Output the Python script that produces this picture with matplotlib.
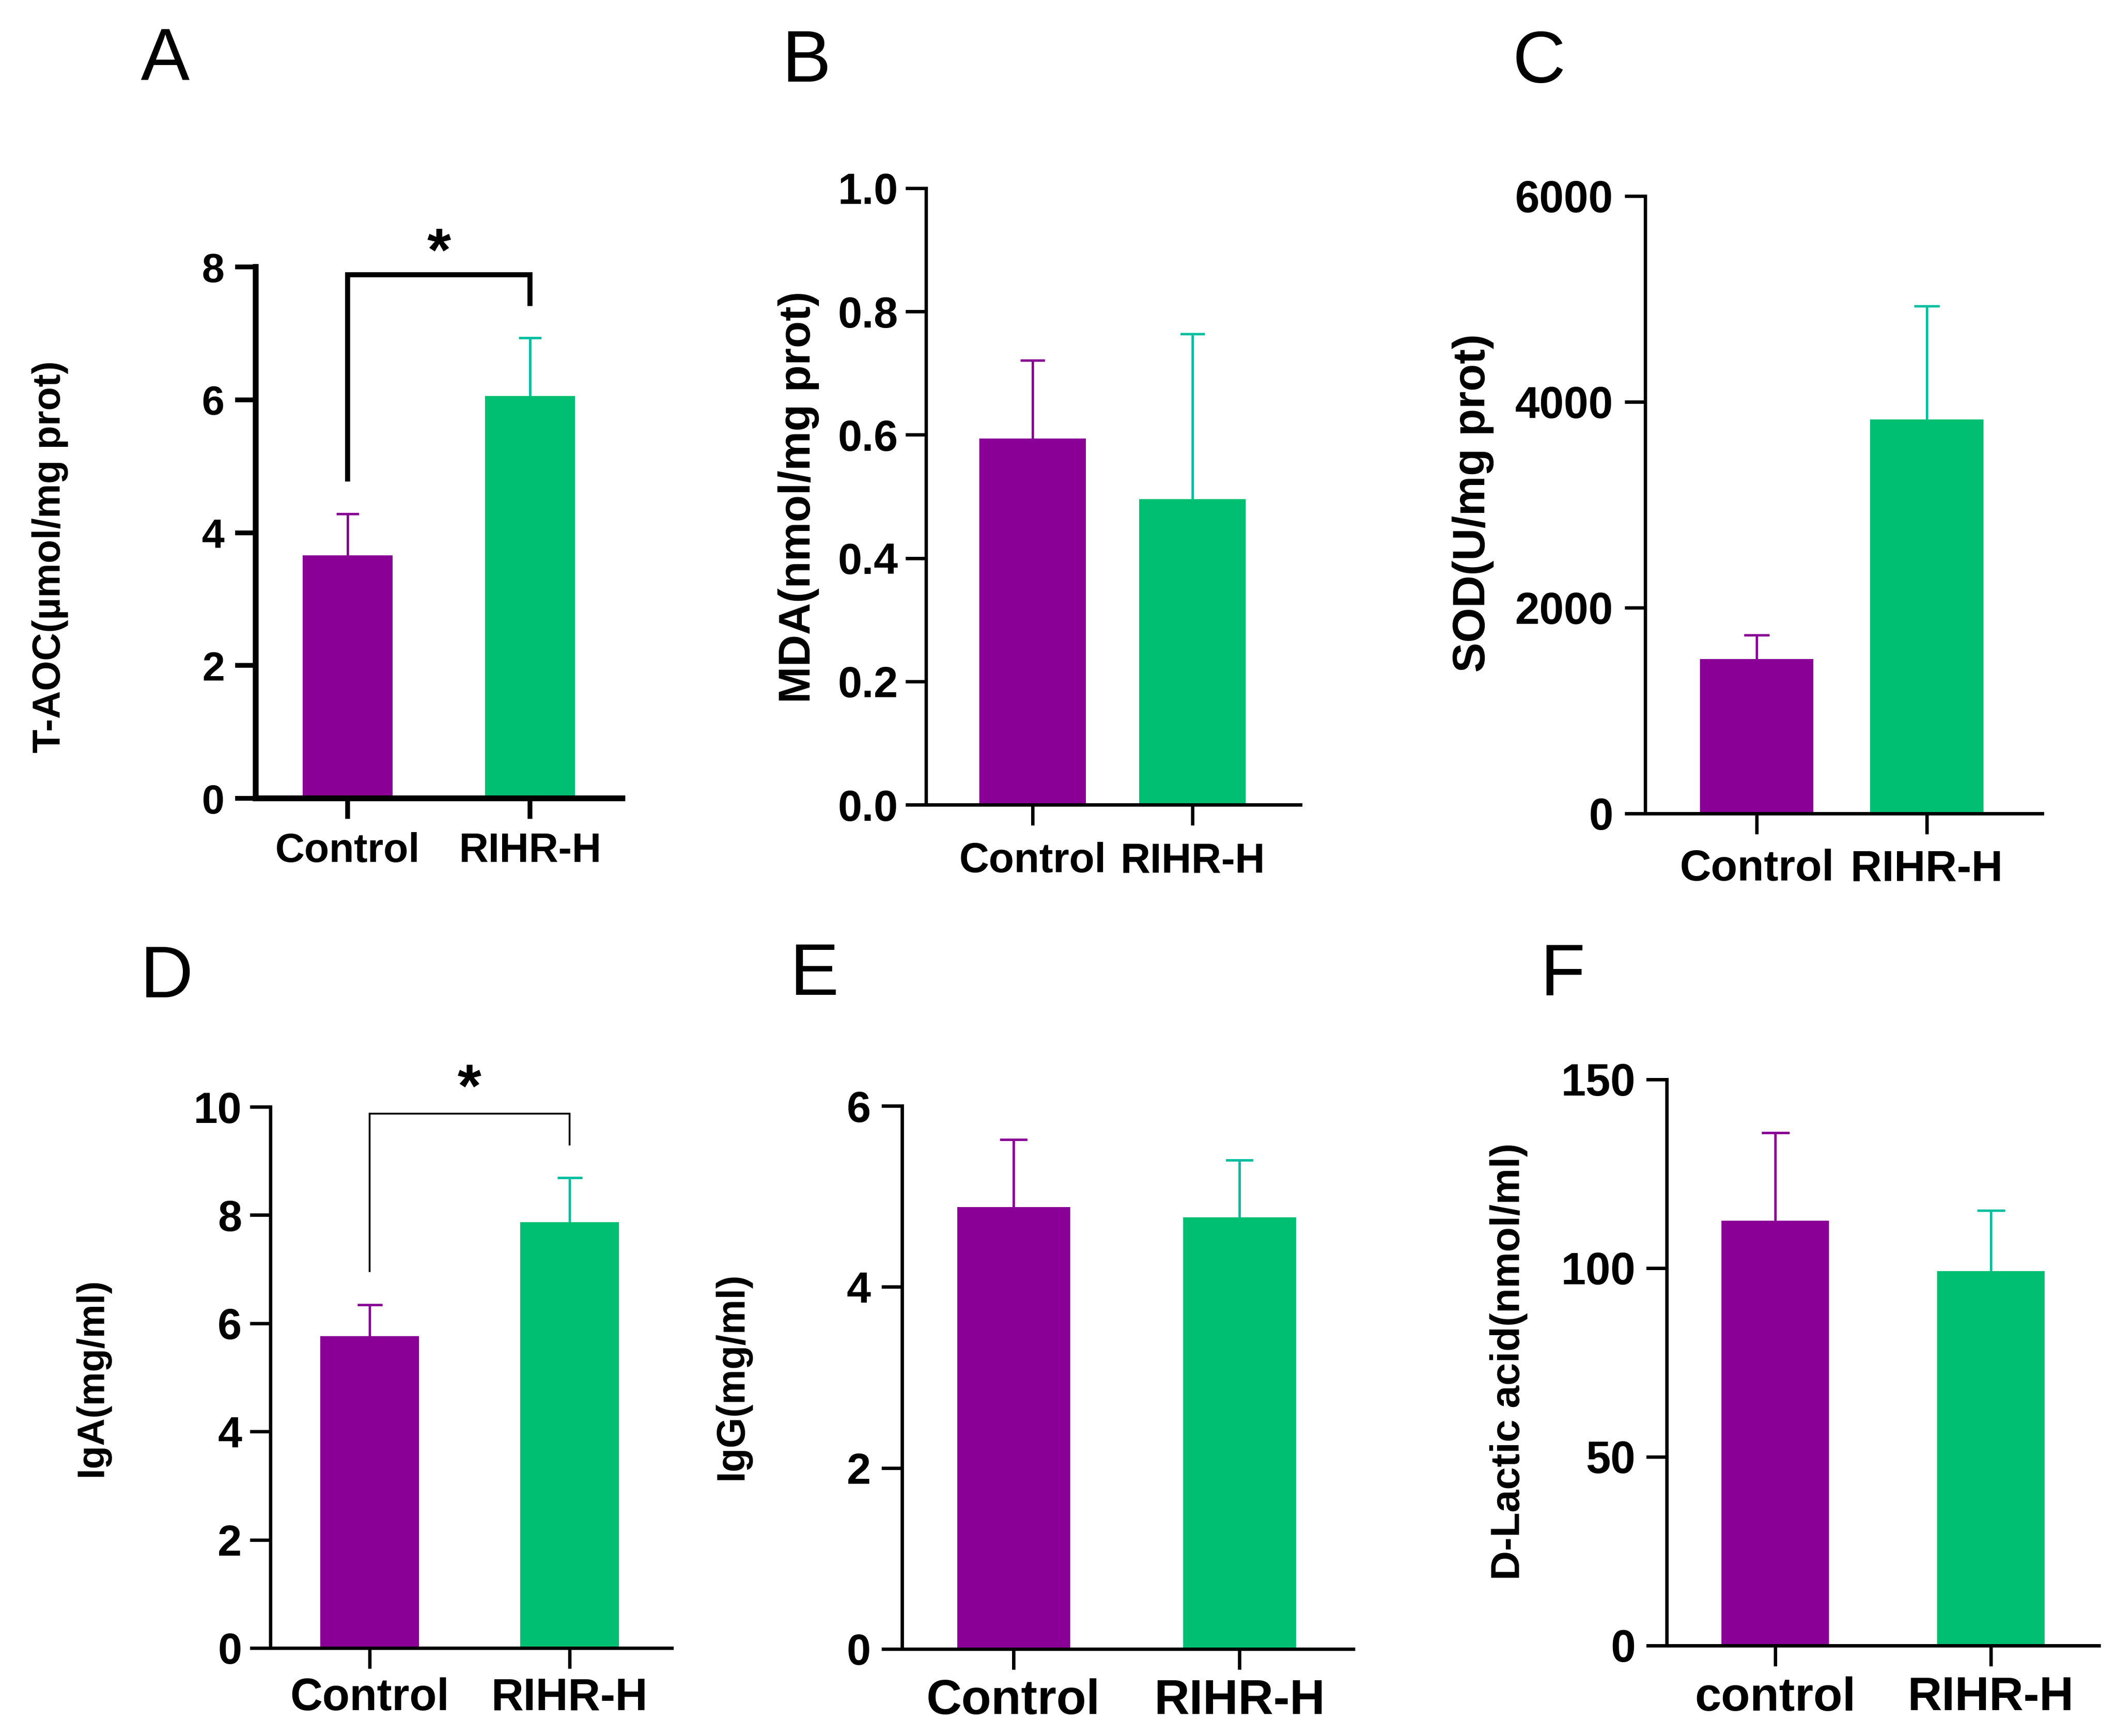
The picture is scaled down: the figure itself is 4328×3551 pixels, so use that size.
import numpy as np
import matplotlib.pyplot as plt

plt.rcParams['font.family'] = ['Liberation Sans', 'DejaVu Sans']

W, H = 4328, 3551

# values (mean and upper SD)
groups = ['Control', 'RIHR-H']
groups_lower = ['control', 'RIHR-H']

taoc_mean = [3.66, 6.06]
taoc_err = [0.62, 0.87]
mda_mean = [0.594, 0.496]
mda_err = [0.127, 0.268]
sod_mean = [1500, 3830]
sod_err = [235, 1100]
iga_mean = [5.76, 7.87]
iga_err = [0.58, 0.82]
igg_mean = [4.88, 4.77]
igg_err = [0.75, 0.63]
dlac_mean = [112.6, 99.2]
dlac_err = [23.3, 16.1]

taoc_ticks = [0, 2, 4, 6, 8]
mda_ticks = [0.0, 0.2, 0.4, 0.6, 0.8, 1.0]
sod_ticks = [0, 2000, 4000, 6000]
iga_ticks = [0, 2, 4, 6, 8, 10]
igg_ticks = [0, 2, 4, 6]
dlac_ticks = [0, 50, 100, 150]

# significance: bracket top, left leg end, right leg end, star centre
taoc_sig = [7.88, 4.77, 7.41, 8.40]
iga_sig = [9.87, 6.95, 9.29, 10.57]

bar_colors = ['#8A0096', '#00BF72']
err_colors = ['#8A0096', '#00BFA0']

# layout in pixels: left, right, top, bottom, centre1, centre2, bar width, cap width
panels = [
    dict(letter='A', pos=(338, 163), box=(523, 1273, 546, 1633, 711, 1084, 184, 46),
         mean=taoc_mean, err=taoc_err, ticks=taoc_ticks, fmt='{:g}', cats=groups,
         ylabel='T-AOC(µmol/mg prot)', ylab=(103, 1139), ylfs=57, tfs=60, xfs=60,
         lw=8.5, tw=7.0, ypad=16, xpad=20, sig=taoc_sig, siglw=7.5),
    dict(letter='B', pos=(1650, 167), box=(1894, 2660, 385, 1646, 2112, 2439, 218, 50),
         mean=mda_mean, err=mda_err, ticks=mda_ticks, fmt='{:.1f}', cats=groups,
         ylabel='MDA(nmol/mg prot)', ylab=(1633, 1017), ylfs=65, tfs=64, xfs=61,
         lw=5.0, tw=5.0, ypad=11, xpad=25, sig=None),
    dict(letter='C', pos=(3148, 169), box=(3365, 4177, 401, 1664, 3593, 3941, 232, 52),
         mean=sod_mean, err=sod_err, ticks=sod_ticks, fmt='{:g}', cats=groups,
         ylabel='SOD(U/mg prot)', ylab=(3013, 1029), ylfs=66, tfs=65, xfs=64,
         lw=5.0, tw=5.0, ypad=17, xpad=22, sig=None),
    dict(letter='D', pos=(341, 2040), box=(553, 1374, 2264, 3371, 756, 1165, 202, 51),
         mean=iga_mean, err=iga_err, ticks=iga_ticks, fmt='{:g}', cats=groups,
         ylabel='IgA(mg/ml)', ylab=(188, 2817), ylfs=56, tfs=64, xfs=66,
         lw=5.0, tw=5.0, ypad=12, xpad=13, sig=iga_sig, siglw=2.6),
    dict(letter='E', pos=(1666, 2035), box=(1845, 2768, 2262, 3373, 2073, 2535, 231, 56),
         mean=igg_mean, err=igg_err, ticks=igg_ticks, fmt='{:g}', cats=groups,
         ylabel='IgG(mg/ml)', ylab=(1498, 2815), ylfs=58, tfs=64, xfs=72,
         lw=5.0, tw=5.0, ypad=16, xpad=13, sig=None),
    dict(letter='F', pos=(3197, 2036), box=(3409, 4293, 2208, 3366, 3631, 4072, 220, 57),
         mean=dlac_mean, err=dlac_err, ticks=dlac_ticks, fmt='{:g}', cats=groups_lower,
         ylabel='D-Lactic acid(nmol/ml)', ylab=(3086, 2785), ylfs=60, tfs=66, xfs=70,
         lw=5.0, tw=5.0, ypad=16, xpad=15, sig=None),
]

fig = plt.figure(figsize=(W / 100, H / 100), dpi=100)

for p in panels:
    l, r, t, b, c1, c2, bw, cw = p['box']
    unit = c2 - c1
    ax = fig.add_axes([l / W, 1 - b / H, (r - l) / W, (b - t) / H])
    x = np.arange(len(p['cats']))
    mean = np.array(p['mean'])
    top = mean + np.array(p['err'])

    ax.bar(x, mean, width=bw / unit, color=bar_colors, zorder=2)
    # upper-only SD bars
    half = cw / 2 / unit
    ax.vlines(x, mean, top, colors=err_colors, lw=3.6, zorder=1)
    ax.hlines(top, x - half, x + half, colors=err_colors, lw=3.6, zorder=1)

    ax.set_xlim(-(c1 - l) / unit, 1 + (r - c2) / unit)
    ax.set_ylim(p['ticks'][0], p['ticks'][-1])

    for side in ['top', 'right']:
        ax.spines[side].set_visible(False)
    for side in ['left', 'bottom']:
        ax.spines[side].set_linewidth(p['lw'])

    ax.set_yticks(p['ticks'], [p['fmt'].format(v) for v in p['ticks']],
                  fontsize=p['tfs'], fontweight='bold')
    ax.set_xticks(x, p['cats'], fontsize=p['xfs'], fontweight='bold')
    ax.tick_params(axis='both', direction='out', length=30, width=p['tw'])
    ax.tick_params(axis='y', pad=p['ypad'])
    ax.tick_params(axis='x', pad=p['xpad'])

    ax.set_ylabel(p['ylabel'], fontsize=p['ylfs'], fontweight='bold', va='center')
    ax.yaxis.set_label_coords(p['ylab'][0] / W, 1 - p['ylab'][1] / H,
                              transform=fig.transFigure)

    if p['sig'] is not None:
        top_y, left_end, right_end, star_y = p['sig']
        ax.plot([0, 0, 1, 1], [left_end, top_y, top_y, right_end], color='black',
                lw=p['siglw'], clip_on=False, solid_joinstyle='miter',
                solid_capstyle='butt')
        ax.annotate('*', xy=(0.5, star_y), xytext=(0, -0.5 * 90),
                    textcoords='offset points', ha='center', va='baseline',
                    fontsize=90, fontweight='bold', annotation_clip=False)

    fig.text(p['pos'][0] / W, 1 - p['pos'][1] / H, p['letter'], fontsize=108,
             ha='center', va='baseline')

fig.savefig('out.png', dpi=100, facecolor='white')
